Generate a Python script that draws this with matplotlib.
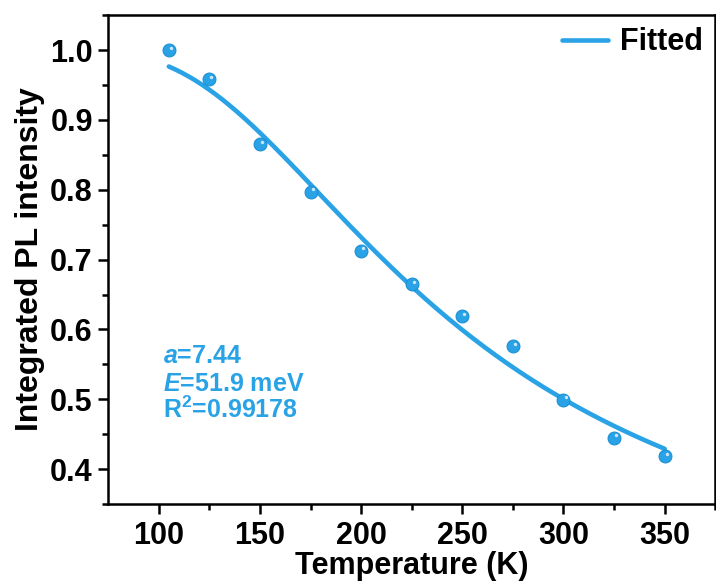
import numpy as np
import matplotlib
matplotlib.use("Agg")
import matplotlib.pyplot as plt
import matplotlib.transforms as mtransforms

# measured points
temperature = [105, 125, 150, 175, 200, 225, 250, 275, 300, 325, 350]
intensity = [1.000, 0.958, 0.865, 0.797, 0.713, 0.665, 0.619, 0.576, 0.499, 0.445, 0.418]

# fit parameters shown on the chart: I = 1 / (1 + a*exp(-E/kT))
a_fit = 7.44
E_fit = 51.9  # meV
r2_fit = 0.99178
k_B = 8.617e-2  # meV/K

blue = "#2aa3e6"
plt.rcParams["font.family"] = ["Liberation Sans", "DejaVu Sans"]
plt.rcParams["font.weight"] = "bold"
plt.rcParams["mathtext.fontset"] = "custom"
plt.rcParams["mathtext.it"] = "Liberation Sans:bold:italic"
plt.rcParams["mathtext.rm"] = "Liberation Sans:bold"
plt.rcParams["mathtext.bf"] = "Liberation Sans:bold"

fig = plt.figure(figsize=(7.16, 5.86), dpi=100)
ax = fig.add_axes([0.151, 0.14, 0.848, 0.834])

T_fit = np.linspace(temperature[0], temperature[-1], 300)
I_fit = 1.0 / (1.0 + a_fit * np.exp(-E_fit / (k_B * T_fit)))
ax.plot(T_fit, I_fit, color=blue, lw=3.3, label="Fitted", zorder=2, solid_capstyle="round")

# spheres: base marker + small highlight
ax.scatter(temperature, intensity, s=85, color=blue, edgecolor="#1b8fd3", linewidth=0.8, zorder=3)
hl = mtransforms.offset_copy(ax.transData, fig=fig, x=1.5, y=1.8, units="points")
ax.scatter(temperature, intensity, s=6, color="white", alpha=0.75, linewidth=0, zorder=4, transform=hl)

ax.set_xlim(75, 375)
ax.set_ylim(0.35, 1.05)
ax.set_xticks([100, 150, 200, 250, 300, 350])
ax.set_xticks([125, 175, 225, 275, 325, 375], minor=True)
ax.set_yticks([0.4, 0.5, 0.6, 0.7, 0.8, 0.9, 1.0])
ax.set_yticks([0.35, 0.45, 0.55, 0.65, 0.75, 0.85, 0.95, 1.05], minor=True)
ax.yaxis.set_major_formatter(plt.FormatStrFormatter("%.1f"))

for s in ax.spines.values():
    s.set_linewidth(1.8)
ax.tick_params(which="major", direction="out", length=7, width=1.8, labelsize=22, pad=4)
ax.tick_params(axis="x", which="major", pad=5)
ax.tick_params(which="minor", direction="out", length=4, width=1.8)

ax.set_xlabel("Temperature (K)", fontsize=22, fontweight="bold", labelpad=0)
ax.set_ylabel("Integrated PL intensity", fontsize=23, fontweight="bold", labelpad=4)

ax.text(0.09, 0.303, r"$a$=%.2f" % a_fit, transform=ax.transAxes, color=blue, fontsize=18, fontweight="bold", va="center")
ax.text(0.09, 0.246, r"$E$=%.1f meV" % E_fit, transform=ax.transAxes, color=blue, fontsize=18, fontweight="bold", va="center")
ax.text(0.09, 0.192, r"R$^2$=%.5f" % r2_fit, transform=ax.transAxes, color=blue, fontsize=18, fontweight="bold", va="center")

leg = ax.legend(loc="upper right", frameon=False, fontsize=22, handlelength=1.5,
                handletextpad=0.4, borderaxespad=0.1, borderpad=0.3)

fig.savefig("out.png", dpi=100)
